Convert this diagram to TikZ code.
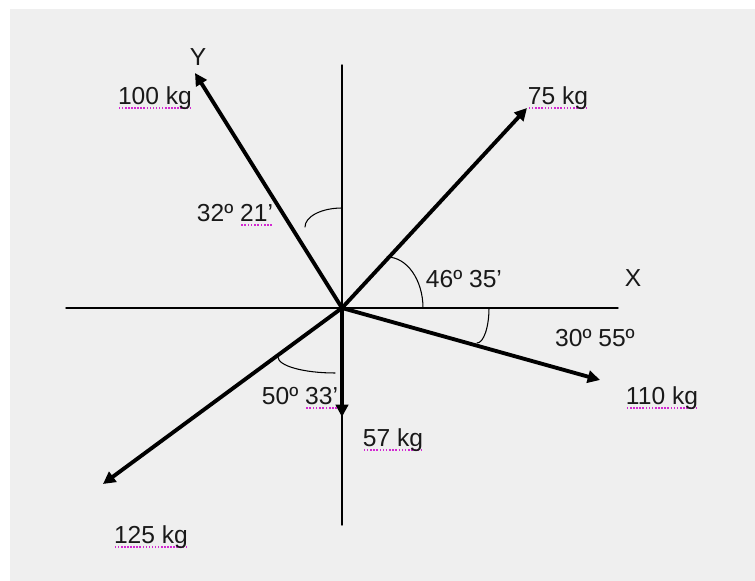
\documentclass[tikz,border=0pt]{standalone}
\usepackage{fontspec}
\setmainfont{Liberation Sans}
\usetikzlibrary{arrows.meta}
\definecolor{nen}{HTML}{EFEFEF}
\definecolor{spellmag}{HTML}{D22AD2}
\newsavebox\splbox
\newcommand\spl[1]{\sbox\splbox{#1}\rlap{\lower2.4pt\hbox to\wd\splbox{\color{spellmag}\xleaders\hbox{\kern0.03em\rule{0.065em}{0.065em}\kern0.03em}\hfill}}\usebox\splbox}
\begin{document}
\begin{tikzpicture}[x=0.02cm,y=0.02cm,line join=round,line cap=round,>={Triangle[length=7pt,width=7pt]}]
            \tikzset{truc/.style={line width=0.8pt},
                luc/.style={line width=2.2pt,->},
                cung/.style={line width=0.6pt},
                nhan/.style={font=\fontsize{14}{16}\selectfont,text=black!90,inner sep=0pt}}
            %%Giới hạn hai trục và các điểm mút của lực
            \def \xmin{-276}
            \def \xmax{276}
            \def \ymin{-217}
            \def \ymax{243}
            \useasboundingbox (-342,-273) rectangle (413,308);
            \fill[nen] (-332,-273) rectangle (413,299);
            \coordinate (O) at (0,0);
            \coordinate (A) at (-147,235);
            \coordinate (B) at (185,200);
            \coordinate (C) at (258,-72);
            \coordinate (D) at (0,-109);
            \coordinate (E) at (-239,-176);
            \draw[truc] (\xmin,0)--(\xmax,0);
            \draw[truc] (0,\ymin)--(0,\ymax);
            \foreach \p in {A,B,C,D,E} \draw[luc] (O)--(\p);
            \draw[cung] (0,100) arc[start angle=90,end angle=180,x radius=37,y radius=19];
            \draw[cung] (45,51) arc[start angle=90,end angle=0,x radius=36,y radius=51];
            \draw[cung] (147,0) arc[start angle=0,end angle=-90,x radius=12,y radius=35];
            \draw[cung] (-64,-49) arc[start angle=180,end angle=270,x radius=57,y radius=16];
            \node[nhan] (nY) at (-144,251) {Y};
            \node[nhan] (nX) at (291,30) {X};
            \node[nhan] (nA) at (-187,210) {\spl{100 kg}};
            \node[nhan] (nB) at (216,210) {\spl{75 kg}};
            \node[nhan] (nC) at (320,-90) {\spl{110 kg}};
            \node[nhan] (nD) at (51,-132) {\spl{57 kg}};
            \node[nhan] (nE) at (-191,-229) {\spl{125 kg}};
            \node[nhan] (gA) at (-107,93) {32º \spl{21’}};
            \node[nhan] (gB) at (122,29) {46º 35’};
            \node[nhan] (gC) at (253,-30) {30º 55º};
            \node[nhan] (gE) at (-42,-90) {50º \spl{33’}};
        \end{tikzpicture}
\end{document}
